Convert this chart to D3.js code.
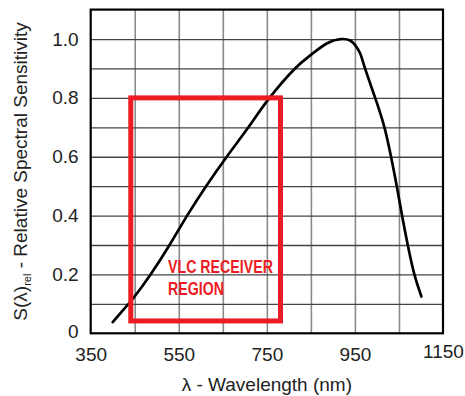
<!DOCTYPE html>
<html>
<head>
<meta charset="utf-8">
<script src="https://cdn.jsdelivr.net/npm/d3@7"></script>
<style>
  body { margin: 0; background: #fff; }
  text { font-family: "Liberation Sans", Arial, sans-serif; }
</style>
</head>
<body>
<div id="chart"></div>
<script>
// wavelength (nm) and relative spectral sensitivity
const wavelength = [400, 430, 447, 486, 529, 569, 612, 659, 708, 756, 814, 850, 886, 920, 939, 950, 962, 973, 996, 1017, 1032, 1045, 1057, 1070, 1085, 1101];
const sensitivity = [0.038, 0.09, 0.12, 0.2, 0.3, 0.4, 0.5, 0.6, 0.7, 0.8, 0.9, 0.946, 0.985, 1.0, 0.995, 0.98, 0.951, 0.9, 0.8, 0.7, 0.6, 0.5, 0.4, 0.3, 0.2, 0.125];

const xTicks = [350, 550, 750, 950, 1150];
const yTicks = [0, 0.2, 0.4, 0.6, 0.8, 1.0];
const xGrid = [450, 550, 650, 750, 850, 950, 1050];
const yGrid = [0.1, 0.2, 0.3, 0.4, 0.5, 0.6, 0.7, 0.8, 0.9, 1.0];

// receiver region box (nm, sensitivity)
const region = { x0: 441, x1: 781, y0: 0.042, y1: 0.8 };
const regionLabel = ['VLC RECEIVER', 'REGION'];

const width = 465, height = 396;
const plotLeft = 90.7, plotRight = 443, plotTop = 9.6, plotBottom = 333.3;
const red = '#ed1c24';
const fontSize = 19;

const svg = d3.select('#chart').append('svg')
    .attr('width', width)
    .attr('height', height);

const x = d3.scaleLinear().domain([350, 1150]).range([plotLeft, plotRight]);
const y = d3.scaleLinear().domain([0, 1.1]).range([plotBottom, plotTop]);

// grid
svg.append('g')
   .attr('transform', `translate(0,${plotBottom})`)
   .call(d3.axisBottom(x).tickValues(xGrid).tickSize(-(plotBottom - plotTop)).tickFormat(''))
   .call(g => g.select('.domain').remove())
   .call(g => g.selectAll('line').attr('stroke', '#8a8a8a').attr('stroke-width', 1.6));

svg.append('g')
   .attr('transform', `translate(${plotLeft},0)`)
   .call(d3.axisLeft(y).tickValues(yGrid).tickSize(-(plotRight - plotLeft)).tickFormat(''))
   .call(g => g.select('.domain').remove())
   .call(g => g.selectAll('line').attr('stroke', '#444').attr('stroke-width', 1.3));

// frame
svg.append('rect')
   .attr('x', plotLeft).attr('y', plotTop)
   .attr('width', plotRight - plotLeft).attr('height', plotBottom - plotTop)
   .attr('fill', 'none')
   .attr('stroke', '#000')
   .attr('stroke-width', 2.2);

// tick labels
svg.append('g')
   .attr('transform', `translate(0,${plotBottom})`)
   .call(d3.axisBottom(x).tickValues(xTicks).tickSize(0).tickPadding(17).tickFormat(d3.format('d')))
   .call(g => g.select('.domain').remove())
   .call(g => g.selectAll('text')
       .attr('font-size', fontSize)
       .attr('font-family', '"Liberation Sans", Arial, sans-serif')
       .attr('fill', '#222')
       .attr('dy', d => d === 1150 ? '0.4em' : '0.56em'));

svg.append('g')
   .attr('transform', `translate(${plotLeft},0)`)
   .call(d3.axisLeft(y).tickValues(yTicks).tickSize(0).tickPadding(12)
       .tickFormat(d => d === 0 ? '0' : d3.format('.1f')(d)))
   .call(g => g.select('.domain').remove())
   .call(g => g.selectAll('text')
       .attr('font-size', fontSize)
       .attr('font-family', '"Liberation Sans", Arial, sans-serif')
       .attr('fill', '#222')
       .attr('dy', d => d === 0 ? '0.2em' : '0.32em'));

// axis titles
svg.append('text')
   .attr('x', (plotLeft + plotRight) / 2)
   .attr('y', 391)
   .attr('text-anchor', 'middle')
   .attr('font-size', fontSize)
   .attr('fill', '#222')
   .text('λ - Wavelength (nm)');

const yTitle = svg.append('text')
   .attr('transform', `translate(26.5,${(plotTop + plotBottom) / 2}) rotate(-90)`)
   .attr('text-anchor', 'middle')
   .attr('font-size', fontSize)
   .attr('fill', '#222');
yTitle.append('tspan').text('S(λ)');
yTitle.append('tspan').attr('font-size', 11).attr('dy', 4).text('rel');
yTitle.append('tspan').attr('dy', -4).text(' - Relative Spectral Sensitivity');

// curve
const points = wavelength.map((w, i) => [w, sensitivity[i]]);
const line = d3.line()
   .x(d => x(d[0]))
   .y(d => y(d[1]))
   .curve(d3.curveNatural);

svg.append('path')
   .datum(points)
   .attr('fill', 'none')
   .attr('stroke', '#000')
   .attr('stroke-width', 2.7)
   .attr('stroke-linejoin', 'round')
   .attr('stroke-linecap', 'round')
   .attr('d', line);

// receiver region
svg.append('rect')
   .attr('x', x(region.x0)).attr('y', y(region.y1))
   .attr('width', x(region.x1) - x(region.x0))
   .attr('height', y(region.y0) - y(region.y1))
   .attr('fill', 'none')
   .attr('stroke', red)
   .attr('stroke-width', 5);

// label in a condensed bold face: squeeze horizontally to the drawn width
const label = svg.append('g');
label.selectAll('text')
   .data(regionLabel)
   .join('text')
   .attr('x', 0)
   .attr('y', (d, i) => 273.5 + i * 21.7)
   .attr('font-weight', 'bold')
   .attr('font-size', 18)
   .attr('fill', red)
   .text(d => d);
const natural = label.select('text').node().getComputedTextLength();
label.attr('transform', `translate(168,0) scale(${105 / natural},1)`);
</script>
</body>
</html>
